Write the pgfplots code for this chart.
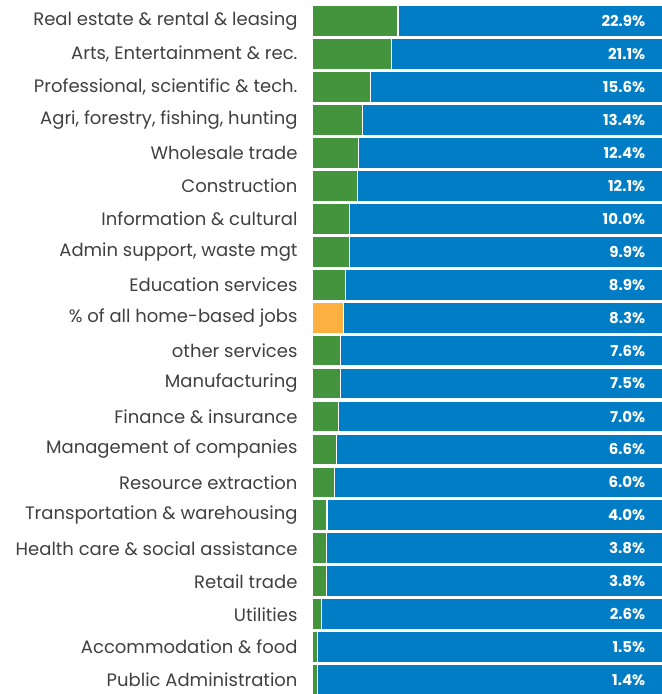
\documentclass[border=0pt]{standalone}
\usepackage{pgfplots}
\pgfplotsset{compat=1.18}
\usepackage{pgfplotstable}
\usepackage{fontspec}
\setmainfont{Poppins}
\definecolor{cgreen}{RGB}{67,148,60}
\definecolor{cblue}{RGB}{0,125,196}
\definecolor{corange}{RGB}{253,176,64}
\definecolor{clabel}{RGB}{64,64,64}
\pgfplotstableread[col sep=comma]{
y,g,o,b,lab
0,22.9,0,100,22.9\%
1,21.1,0,100,21.1\%
2,15.6,0,100,15.6\%
3,13.4,0,100,13.4\%
4,12.4,0,100,12.4\%
5,12.1,0,100,12.1\%
6,10.0,0,100,10.0\%
7,9.9,0,100,9.9\%
8,8.9,0,100,8.9\%
9,0,8.3,100,8.3\%
10,7.6,0,100,7.6\%
11,7.5,0,100,7.5\%
12,7.0,0,100,7.0\%
13,6.6,0,100,6.6\%
14,6.0,0,100,6.0\%
15,4.0,0,100,4.0\%
16,3.8,0,100,3.8\%
17,3.8,0,100,3.8\%
18,2.6,0,100,2.6\%
19,1.5,0,100,1.5\%
20,1.4,0,100,1.4\%
}\datatable
\begin{document}
\begin{tikzpicture}
\useasboundingbox (0,0) rectangle (662bp,-694bp);
\begin{axis}[
  at={(312bp,-4.5bp)}, anchor=north west,
  scale only axis, width=350bp, height=689.5bp,
  xmin=0, xmax=93.3, ymin=-0.5, ymax=20.42,
  y dir=reverse,
  xbar, bar width=0.94, bar shift=0pt,
  xtick=\empty,
  axis line style={draw=none},
  major tick length=0pt,
  ytick={0,...,20},
  yticklabels={Real estate \& rental \& leasing, {Arts, Entertainment \& rec.}, {Professional, scientific \& tech.}, {Agri, forestry, fishing, hunting}, Wholesale trade, Construction, Information \& cultural, {Admin support, waste mgt}, Education services, \% of all home-based jobs, other services, Manufacturing, Finance \& insurance, Management of companies, Resource extraction, Transportation \& warehousing, Health care \& social assistance, Retail trade, Utilities, Accommodation \& food, Public Administration},
  yticklabel style={font=\fontsize{18bp}{20bp}\selectfont, text=clabel, xshift=-11bp},
  clip=false,
]
\addplot[fill=cblue, draw=white, line width=1.2bp,
  nodes near coords, point meta=explicit symbolic,
  nodes near coords style={anchor=east, text=white, font=\fontsize{15bp}{18bp}\selectfont\bfseries, xshift=-38bp}]
  table[x=b, y=y, meta=lab] {\datatable};
\addplot[fill=cgreen, draw=white, line width=1.2bp] table[x=g, y=y] {\datatable};
\addplot[fill=corange, draw=white, line width=1.2bp] table[x=o, y=y] {\datatable};
\end{axis}
\fill[white] (662bp,2bp) rectangle (760bp,-700bp);
\end{tikzpicture}
\end{document}
